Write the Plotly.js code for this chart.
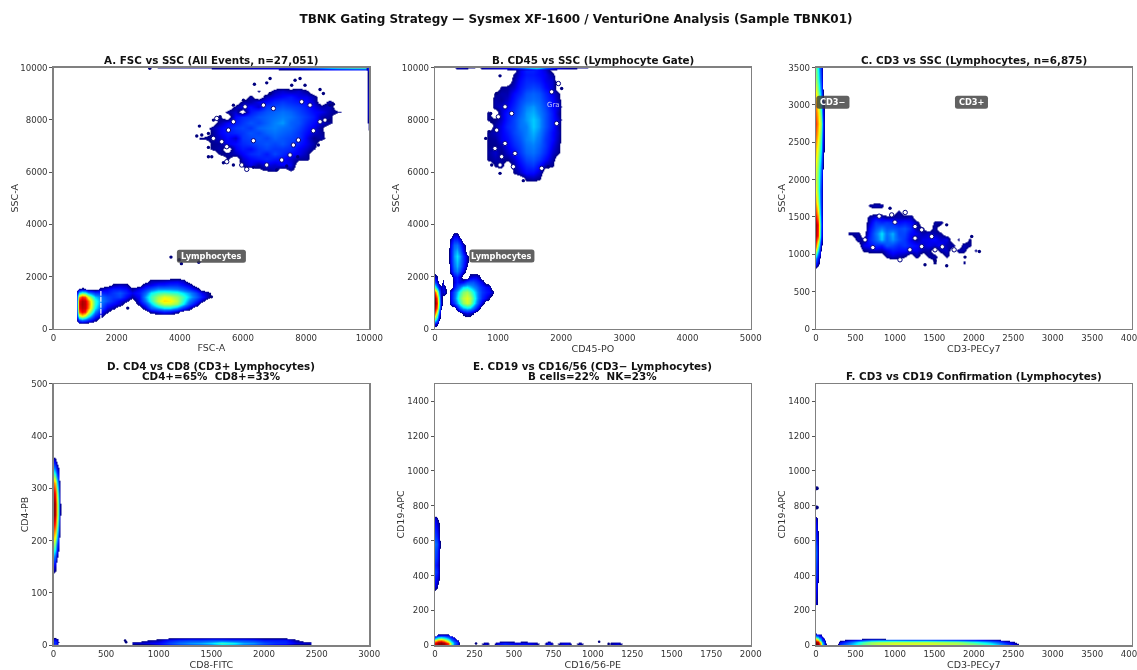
<!DOCTYPE html>
<html><head><meta charset="utf-8">
<script src="https://cdn.plot.ly/plotly-3.0.1.min.js"></script>
<style>html,body{margin:0;padding:0;background:#fff;overflow:hidden}#g{width:1137px;height:670px;filter:blur(0.55px)}</style>
</head><body><div id="g"></div>
<script>
// ---- Density grids (z on a 0-100 density scale) ----
const A_gran_x=[4750,5000,5250,5500,5750,6000,6250,6500,6750,7000,7250,7500,7750,8000,8250,8500,8750,9000];
const A_gran_y=[5900,6100,6300,6500,6700,6900,7100,7300,7500,7700,7900,8100,8300,8500,8700,8900,9100,9300,9500,9700];
const A_gran_z=[
[0,0,0,0,0,0,0,0,0,0,0,0,0,0,0,0,0,0],
[0,0,0,0,0,0,0,4,6,8,0,7,0,0,0,0,0,0],
[0,0,0,0,0,8,12,7,12,10,13,12,0,0,0,0,0,0],
[0,0,0,6,0,10,14,16,18,16,14,10,7,7,0,0,0,0],
[0,0,6,7,9,13,18,20,16,22,18,14,12,8,0,0,0,0],
[0,6,8,0,12,16,14,20,22,20,20,18,13,10,6,0,0,0],
[0,6,7,12,14,18,20,22,24,22,24,20,16,12,8,0,0,0],
[6,7,10,14,10,20,22,24,22,26,24,22,20,12,6,8,0,0],
[0,6,12,16,18,20,24,22,26,28,26,24,20,14,10,7,0,0],
[0,7,12,16,20,22,20,26,28,30,28,26,22,16,12,6,0,0],
[0,0,8,13,16,20,24,22,26,30,32,26,24,18,14,10,7,0],
[0,0,6,0,14,18,20,24,26,28,30,28,24,20,16,8,7,0],
[0,0,0,7,10,0,16,20,24,26,28,26,22,18,14,12,8,6],
[0,0,0,0,7,12,14,10,20,22,24,22,20,16,12,8,9,0],
[0,0,0,0,0,7,8,12,14,18,20,18,16,14,10,0,8,0],
[0,0,0,0,0,0,7,0,9,12,14,16,12,12,8,0,0,0],
[0,0,0,0,0,0,0,6,0,8,10,8,10,6,0,0,0,0],
[0,0,0,0,0,0,0,0,0,0,0,0,0,0,0,0,0,0],
[0,0,0,0,0,0,0,0,0,0,0,0,0,0,0,0,0,0],
[0,0,0,0,0,0,0,0,0,0,0,0,0,0,0,0,0,0]];
const A_hole_x=[6066,5697,5539,5170,6647,8229,8440,7754,7596,6330,5961,5486,6119,6752,6963,7860,7227,7490,8598,5486,5328,5064,8123];
const A_hole_y=[8497,7925,7606,8052,8561,7581,7925,7225,7034,7200,6271,6971,6106,6271,8433,8688,6462,6653,7988,6398,7161,7289,8561];
const A_speck_x=[6858,7649,7965,8440,6362,6752,4620,4536,4695,8756,8756,8387,5380,7068,7385,7733,4906,3720,3980,4050,4600,2350,5000,3050,5064,4906,4906,5011,5697,6330,8862,8704,8546,7807,7543,6858,6014,5697,5275];
const A_speck_y=[9578,9514,9323,9158,9362,9413,7759,7378,7416,8561,7988,7034,6360,6080,6233,6589,6589,2750,2650,2500,2550,800,1230,9970,7988,7480,6945,6589,6271,6182,8599,7963,9006,9578,9323,9006,8752,8561,8115];
const A_lymph_x=[700,800,900,1000,1100,1300,1500,1700,1900,2100,2300,2500,2700,2900,3100,3300,3500,3700,3900,4100,4300,4500,4700,4900,5100];
const A_lymph_y=[200,350,500,650,800,950,1100,1250,1400,1550,1700,1850,2000];
const A_lymph_z=[
[0,0,0,0,0,0,0,0,0,0,0,0,0,0,0,0,0,0,0,0,0,0,0,0,0],
[0,24,30,26,20,8,0,0,0,0,0,0,0,0,0,0,0,0,0,0,0,0,0,0,0],
[0,58,66,58,44,18,8,0,0,0,0,0,0,0,0,0,0,0,0,0,0,0,0,0,0],
[0,80,88,84,64,30,14,7,0,0,0,0,0,0,8,12,16,14,8,0,0,0,0,0,0],
[0,88,94,92,78,40,24,12,8,0,0,0,0,10,26,34,40,40,32,20,10,0,0,0,0],
[0,90,96,93,80,44,28,18,14,10,0,0,8,20,36,52,60,60,54,40,24,12,0,0,0],
[0,88,95,92,78,44,30,24,18,12,8,0,12,28,44,60,68,66,58,44,30,18,8,0,0],
[0,74,84,80,62,36,28,22,20,22,14,8,14,32,46,56,62,60,54,46,36,26,16,8,0],
[0,38,48,44,32,20,18,16,20,24,18,12,16,26,40,46,48,46,44,38,32,22,12,7,0],
[0,5,7,6,0,0,8,12,16,16,14,7,12,18,24,30,30,30,28,24,18,10,0,0,0],
[0,0,0,0,0,0,0,0,7,9,8,0,0,10,12,16,16,18,18,14,10,0,0,0,0],
[0,0,0,0,0,0,0,0,0,0,0,0,0,0,8,8,9,10,11,9,0,0,0,0,0],
[0,0,0,0,0,0,0,0,0,0,0,0,0,0,0,0,0,0,0,0,0,0,0,0,0]];
const A_top_x=[3700,4500,5500,6000,6500,7000,7500,8000,8500,9000,9500,10000];
const A_top_y=[9880,10000];
const A_top_z=[[0,0,0,0,0,0,0,0,0,0,0,0],[6,7,8,10,12,14,18,26,34,44,48,50]];
const A_right_x=[9880,10000];
const A_right_y=[7600,7700,8200,8600,9000,9400,9800,10000];
const A_right_z=[[0,6],[0,8],[0,14],[0,16],[0,14],[0,12],[0,10],[0,30]];
const A_gate_x=[1500,1500];
const A_gate_y=[350,1450];

const B_gran_x=[750,850,950,1050,1150,1250,1350,1450,1550,1650,1750,1850,1950,2050];
const B_gran_y=[5500,5750,6000,6250,6500,6750,7000,7250,7500,7750,8000,8250,8500,8750,9000,9250,9500,9750,10000];
const B_gran_z=[
[0,0,0,0,0,0,0,0,0,0,0,0,0,0],
[0,0,0,0,0,0,0,7,8,6,0,0,0,0],
[0,0,0,0,0,6,10,14,14,10,0,0,0,0],
[0,0,6,8,0,8,13,18,20,14,8,6,0,0],
[0,6,8,7,6,10,16,22,24,20,14,8,0,0],
[0,7,10,6,10,14,20,26,28,24,18,10,6,0],
[0,6,6,8,12,18,22,28,30,26,20,12,7,0],
[0,6,7,12,14,20,24,30,32,28,20,14,8,0],
[0,7,9,12,16,22,26,30,34,30,22,14,9,0],
[0,0,8,12,18,22,28,30,36,32,24,16,8,0],
[0,6,6,10,16,22,28,32,36,32,24,16,10,0],
[0,7,0,10,16,20,26,32,34,30,24,16,8,0],
[0,0,8,10,12,18,24,30,32,28,22,14,10,0],
[0,0,8,7,10,16,22,26,28,26,20,14,8,0],
[0,0,6,8,8,14,18,24,26,24,18,12,6,0],
[0,0,0,6,7,10,16,20,22,20,14,10,0,0],
[0,0,0,0,0,8,14,18,18,16,12,10,0,0],
[0,0,0,0,0,6,12,16,16,14,12,7,0,0],
[0,0,0,0,0,0,12,18,18,14,10,0,0,0]];
const B_hole_x=[1109,1003,977,1109,1056,1030,950,1241,1267,1954,1848,1927,1690,1214];
const B_hole_y=[8497,8115,7606,7098,6589,6271,6907,6207,6716,9387,9069,7861,6144,8242];
const B_speck_x=[1030,898,855,803,882,898,1030,1399,2006,977,1795];
const B_speck_y=[9680,7925,7543,7289,8242,6271,5953,5673,9197,9006,6207];
const B_low_x=[0,30,60,90,120,150,200,250,300,350,400,450,500,550,600,650,700,750,800,850,900,950];
const B_low_y=[0,200,400,600,800,1000,1200,1400,1600,1800,2000,2200,2400,2600,2800,3000,3200,3400,3600,3800];
const B_low_z=[
[0,0,0,0,0,0,0,0,0,0,0,0,0,0,0,0,0,0,0,0,0,0],
[12,7,0,0,0,0,0,0,0,0,0,0,0,0,0,0,0,0,0,0,0,0],
[50,32,8,0,0,0,0,0,0,0,0,0,0,0,0,0,0,0,0,0,0,0],
[78,56,22,0,0,0,0,0,0,0,0,8,12,10,6,0,0,0,0,0,0,0],
[94,76,38,8,0,0,0,0,0,12,26,34,38,36,28,18,8,0,0,0,0,0],
[100,84,46,12,0,0,0,12,20,32,44,54,60,56,44,32,20,10,0,0,0,0],
[96,78,42,10,0,0,0,14,26,38,50,58,62,58,48,36,26,18,12,7,0,0],
[80,60,30,10,10,12,0,14,24,34,44,52,56,50,42,34,26,20,16,14,10,0],
[46,30,14,8,12,9,0,0,14,22,30,38,40,36,32,28,22,18,14,12,0,0],
[22,12,0,0,9,0,0,0,10,16,12,14,22,24,24,20,16,12,0,0,0,0],
[10,6,0,0,0,0,0,0,12,16,10,0,0,10,12,12,8,0,0,0,0,0],
[0,0,0,0,0,0,0,12,24,30,22,12,0,0,0,0,0,0,0,0,0,0],
[0,0,0,0,0,0,0,14,28,34,28,18,6,0,0,0,0,0,0,0,0,0],
[0,0,0,0,0,0,0,16,30,36,30,20,8,0,0,0,0,0,0,0,0,0],
[0,0,0,0,0,0,0,16,32,38,32,20,8,0,0,0,0,0,0,0,0,0],
[0,0,0,0,0,0,0,16,30,34,26,14,0,0,0,0,0,0,0,0,0,0],
[0,0,0,0,0,0,0,14,26,28,20,10,0,0,0,0,0,0,0,0,0,0],
[0,0,0,0,0,0,0,10,18,18,12,0,0,0,0,0,0,0,0,0,0,0],
[0,0,0,0,0,0,0,0,10,10,0,0,0,0,0,0,0,0,0,0,0,0],
[0,0,0,0,0,0,0,0,0,0,0,0,0,0,0,0,0,0,0,0,0,0]];
const B_top_x=[300,320,400,500,630,700,720,800,1000,1200,1400,1600,1800,1900,2000,2100,2200,2350];
const B_top_y=[9880,10000];
const B_top_z=[[0,0,0,0,0,0,0,0,0,0,0,0,0,0,0,0,0,0],[0,7,10,8,5,0,7,10,12,16,30,46,24,16,12,10,8,6]];

const C_neg_x=[0,30,60,85,110];
const C_neg_y=[800,950,1100,1250,1400,1550,1700,1850,2000,2150,2300,2450,2600,2750,2900,3050,3200,3350,3500];
const C_neg_z=[
[0,0,0,0,0],[30,14,0,0,0],[76,50,8,0,0],[94,82,24,0,0],[96,84,28,0,0],[82,68,22,0,0],[70,56,20,0,0],
[64,50,20,0,0],[60,50,24,0,0],[62,52,28,5,0],[66,56,34,8,0],[72,62,42,12,0],[78,68,48,16,0],[82,72,54,18,0],
[78,68,46,14,0],[72,62,36,10,0],[62,50,28,5,0],[54,44,22,0,0],[50,40,18,0,0]];
const C_pos_x=[450,525,600,675,750,825,900,975,1050,1125,1200,1275,1350,1425,1500,1575,1650,1725,1800,1875,1950,2025,2100];
const C_pos_y=[900,975,1050,1125,1200,1275,1350,1425,1500,1575,1650,1725];
const C_pos_z=[
[0,0,0,0,0,0,0,0,0,0,0,0,0,0,6,0,0,0,0,6,0,0,0],
[0,0,0,0,0,0,7,10,8,6,0,8,0,7,8,0,7,0,0,0,0,0,0],
[0,0,6,8,9,8,12,16,14,14,12,12,8,8,0,8,10,0,8,8,0,7,0],
[0,0,12,14,18,16,24,22,18,20,16,14,10,12,10,14,8,8,0,9,7,0,0],
[0,8,6,18,26,36,26,32,24,20,12,7,12,12,14,10,12,0,6,0,6,0,0],
[7,8,0,16,28,38,28,34,22,22,14,12,8,10,8,7,0,0,0,0,0,0,0],
[0,0,0,14,24,30,24,24,22,24,18,8,6,0,8,0,0,0,0,0,0,0,0],
[0,0,0,10,20,18,20,18,14,16,14,8,0,0,7,8,0,0,0,0,0,0,0],
[0,0,0,8,12,10,7,8,8,8,9,0,0,0,0,0,0,0,0,0,0,0,0],
[0,0,0,0,0,0,0,0,7,0,0,0,0,0,0,0,0,0,0,0,0,0,0],
[0,0,0,7,9,8,0,0,0,0,0,0,0,0,0,0,0,0,0,0,0,0,0],
[0,0,0,0,0,0,0,0,0,0,0,0,0,0,0,0,0,0,0,0,0,0,0]];
const C_hole_x=[1255,1339,1255,1466,1508,1339,959,621,1064,1600,1750,1130,800,1190,720,1000];
const C_hole_y=[1371,1327,1216,1238,1060,1104,1527,1193,926,1100,1060,1560,1510,1060,1090,1430];
const C_speck_x=[938,1381,1508,1656,1888,2070,1973,1656,1559];
const C_speck_y=[1616,859,913,846,962,1037,1238,1394,1394];

const D_cd4_x=[0,15,30,45,60,75];
const D_cd4_y=[130,150,170,190,210,230,250,270,290,310,330,350,365,385];
const D_cd4_z=[
[0,0,0,0,0,0],[12,8,0,0,0,0],[32,24,10,0,0,0],[54,46,26,10,0,0],[72,64,44,20,6,0],[88,80,60,34,8,0],
[100,92,70,42,10,0],[100,92,70,42,10,0],[92,84,62,36,8,0],[76,68,46,22,7,0],[44,36,22,10,0,0],[18,12,6,0,0,0],[0,0,0,0,0,0],[0,0,0,0,0,0]];
const D_low_x=[0,20,40,55];
const D_low_y=[0,6,12,16];
const D_low_z=[[14,16,8,0],[18,20,10,0],[10,10,6,0],[0,0,0,0]];
const D_cd8_x=[800,900,1000,1100,1200,1300,1400,1500,1600,1700,1800,1900,2000,2100,2200,2300,2400];
const D_cd8_y=[0,5,10,15];
const D_cd8_z=[
[0,0,8,14,18,20,22,26,32,30,26,20,16,10,8,0,0],
[10,12,14,22,28,32,34,38,46,42,34,32,24,20,18,12,10],
[0,6,8,16,20,22,22,24,24,22,22,20,16,16,16,7,0],
[0,0,0,0,0,0,0,0,0,0,0,0,0,0,0,0,0]];
const D_speck_x=[680,690];
const D_speck_y=[9,6];

const E_cd19_x=[0,12,24,36];
const E_cd19_y=[300,340,380,420,460,500,540,580,620,660,700,730,750];
const E_cd19_z=[[0,0,0,0],[12,8,0,0],[16,12,6,0],[22,18,8,0],[18,14,6,0],[22,18,8,0],[24,20,9,0],[28,24,12,0],[22,18,8,0],[18,14,6,0],[14,10,5,0],[10,7,0,0],[0,0,0,0]];
const E_hot_x=[0,20,40,60,80,100,120,140,160];
const E_hot_y=[0,10,20,30,40,50,60,70];
const E_hot_z=[
[88,96,98,96,82,50,26,16,0],[90,97,100,97,84,54,30,18,0],[84,94,96,90,72,46,28,20,0],[62,74,78,70,52,32,20,8,0],
[34,48,52,46,34,22,12,0,0],[16,26,28,26,20,12,0,0,0],[0,12,14,14,12,0,0,0,0],[0,0,0,0,0,0,0,0,0]];
const E_nk_x=[240,280,320,360,400,440,480,520,560,600,640,680,720,760,800,840,880,920,960,1000,1040,1080,1120,1160,1200];
const E_nk_y=[0,12,26];
const E_nk_z=[
[0,0,7,0,7,8,8,7,8,8,6,0,8,0,7,7,0,5,0,0,0,0,5,7,0],
[0,0,12,0,14,20,16,14,16,14,10,0,18,0,12,14,0,10,0,0,0,0,9,12,0],
[0,0,0,0,0,0,0,0,0,0,0,0,0,0,0,0,0,0,0,0,0,0,0,0,0]];
const E_speck_x=[260,1040,1100];
const E_speck_y=[10,20,8];

const F_cd19_x=[0,15,30,45];
const F_cd19_y=[250,290,330,370,410,450,490,530,570,610,650,690,730,745];
const F_cd19_z=[[10,6,0,0],[12,8,0,0],[14,10,0,0],[16,12,6,0],[20,16,8,0],[22,16,8,0],[24,18,9,0],[26,20,9,0],[24,18,9,0],[20,14,7,0],[16,12,6,0],[14,10,0,0],[10,6,0,0],[0,0,0,0]];
const F_hot_x=[0,20,40,60,80,100,120,140];
const F_hot_y=[0,10,20,30,40,50,60,70,80];
const F_hot_z=[
[100,98,90,66,44,24,10,0],[100,97,88,64,42,22,10,0],[96,90,76,52,32,18,8,0],[82,72,54,36,22,12,6,0],[60,50,38,26,16,8,0,0],
[34,28,20,14,9,0,0,0],[16,13,9,7,0,0,0,0],[6,0,0,0,0,0,0,0],[0,0,0,0,0,0,0,0]];
const F_band_x=[260,300,400,500,600,700,800,1000,1200,1400,1600,1800,2000,2200,2300,2400,2500,2560,2600];
const F_band_y=[0,10,20,30,40,50];
const F_band_z=[
[0,14,26,36,44,48,52,54,56,56,54,52,48,38,32,22,12,7,0],
[0,18,30,40,50,56,60,62,62,62,60,58,52,42,34,24,12,6,0],
[0,10,22,34,44,52,54,56,56,56,54,52,42,32,24,14,7,0,0],
[0,0,8,12,18,24,26,24,22,22,20,18,16,10,8,0,0,0,0],
[0,0,0,0,6,8,8,0,0,0,0,0,0,0,0,0,0,0,0],
[0,0,0,0,0,0,0,0,0,0,0,0,0,0,0,0,0,0,0]];
const F_speck_x=[10,10];
const F_speck_y=[900,790];

// ---- Text and axes ----
const mainTitle="TBNK Gating Strategy — Sysmex XF-1600 / VenturiOne Analysis (Sample TBNK01)";
const panelTitles=[["A. FSC vs SSC (All Events, n=27,051)"],["B. CD45 vs SSC (Lymphocyte Gate)"],["C. CD3 vs SSC (Lymphocytes, n=6,875)"],
["D. CD4 vs CD8 (CD3+ Lymphocytes)","CD4+=65%  CD8+=33%"],["E. CD19 vs CD16/56 (CD3− Lymphocytes)","B cells=22%  NK=23%"],["F. CD3 vs CD19 Confirmation (Lymphocytes)"]];
const xTitles=["FSC-A","CD45-PO","CD3-PECy7","CD8-FITC","CD16/56-PE","CD3-PECy7"];
const yTitles=["SSC-A","SSC-A","SSC-A","CD4-PB","CD19-APC","CD19-APC"];
const xMax=[10000,5000,4000,3000,2000,4000];
const yMax=[10000,10000,3500,500,1500,1500];
const xStep=[2000,1000,500,500,250,500];
const yStep=[2000,2000,500,100,200,200];

// ---- Page layout (pixels) ----
const W=1137,H=670;
const colL=[53.5,435,816], colR=[369.3,750.7,1131.7];
const rowT=[67.5,383.7], rowB=[329,645.3];
const jet=[[0,'rgba(255,255,255,0)'],[0.0499,'rgba(255,255,255,0)'],[0.05,'#00007f'],[0.13,'#0000ff'],[0.30,'#0080ff'],[0.40,'#00ffff'],[0.52,'#7cff79'],[0.65,'#ffff00'],[0.87,'#ff0000'],[1,'#7f0000']];
const axn=i=>i===0?'':String(i+1);
const traces=[];
function dens(p,x,y,z){traces.push({type:'heatmap',x,y,z,xaxis:'x'+axn(p),yaxis:'y'+axn(p),zmin:0,zmax:100,zauto:false,zsmooth:'best',colorscale:jet,showscale:false,hoverinfo:'skip'});}
function speck(p,x,y,size){traces.push({type:'scatter',mode:'markers',x,y,xaxis:'x'+axn(p),yaxis:'y'+axn(p),marker:{size:size||3.4,color:'#00007f'},hoverinfo:'skip'});}
function hole(p,x,y){traces.push({type:'scatter',mode:'markers',x,y,xaxis:'x'+axn(p),yaxis:'y'+axn(p),marker:{size:4.4,color:'#fff',line:{color:'#00007f',width:1}},hoverinfo:'skip'});}
dens(0,A_gran_x,A_gran_y,A_gran_z);dens(0,A_lymph_x,A_lymph_y,A_lymph_z);dens(0,A_top_x,A_top_y,A_top_z);dens(0,A_right_x,A_right_y,A_right_z);hole(0,A_hole_x,A_hole_y);speck(0,A_speck_x,A_speck_y);
traces.push({type:'scatter',mode:'lines',x:A_gate_x,y:A_gate_y,xaxis:'x',yaxis:'y',line:{color:'#fff',width:1.2,dash:'5px,1px'},hoverinfo:'skip'});
dens(1,B_gran_x,B_gran_y,B_gran_z);dens(1,B_low_x,B_low_y,B_low_z);dens(1,B_top_x,B_top_y,B_top_z);hole(1,B_hole_x,B_hole_y);speck(1,B_speck_x,B_speck_y);
dens(2,C_neg_x,C_neg_y,C_neg_z);dens(2,C_pos_x,C_pos_y,C_pos_z);hole(2,C_hole_x,C_hole_y);speck(2,C_speck_x,C_speck_y);
dens(3,D_cd4_x,D_cd4_y,D_cd4_z);dens(3,D_low_x,D_low_y,D_low_z);dens(3,D_cd8_x,D_cd8_y,D_cd8_z);speck(3,D_speck_x,D_speck_y,2.6);
dens(4,E_cd19_x,E_cd19_y,E_cd19_z);dens(4,E_hot_x,E_hot_y,E_hot_z);dens(4,E_nk_x,E_nk_y,E_nk_z);speck(4,E_speck_x,E_speck_y,2.6);
dens(5,F_cd19_x,F_cd19_y,F_cd19_z);dens(5,F_hot_x,F_hot_y,F_hot_z);dens(5,F_band_x,F_band_y,F_band_z);speck(5,F_speck_x,F_speck_y,4);

const tickFont={family:'DejaVu Sans',size:8.6,color:'#333'};
const layout={width:W,height:H,margin:{l:0,r:0,t:0,b:0},paper_bgcolor:'#fff',plot_bgcolor:'#fff',showlegend:false,
 title:{text:mainTitle,x:576/W,xanchor:'center',y:1-19/H,yanchor:'middle',font:{family:'DejaVu Sans',size:12,color:'#111',weight:700}},
 annotations:[],shapes:[],hovermode:false};
for(let i=0;i<6;i++){
 const c=i%3,r=Math.floor(i/3);
 const common={showgrid:false,zeroline:false,showline:true,mirror:true,linecolor:'#808080',linewidth:1.2,ticks:'outside',ticklen:3,tickwidth:1,tickcolor:'#555',tickfont:tickFont,automargin:false,tickformat:'d',ticklabeloverflow:'allow'};
 // The labelled x axis has no tick marks, so its labels sit close to the frame; a companion axis draws the marks.
 layout['xaxis'+axn(i)]=Object.assign({},common,{domain:[colL[c]/W,colR[c]/W],range:[0,xMax[i]],dtick:xStep[i],tick0:0,anchor:'y'+axn(i),tickangle:0,ticks:'',ticklen:0,
  title:{text:xTitles[i],standoff:2.5,font:{family:'DejaVu Sans',size:9.5,color:'#333'}}});
 layout['xaxis'+(i+7)]={overlaying:'x'+axn(i),anchor:'y'+axn(i),side:'bottom',range:[0,xMax[i]],dtick:xStep[i],tick0:0,showgrid:false,zeroline:false,showline:false,showticklabels:false,ticks:'outside',ticklen:3,tickwidth:1,tickcolor:'#555'};
 layout['yaxis'+axn(i)]=Object.assign({},common,{domain:[1-rowB[r]/H,1-rowT[r]/H],range:[0,yMax[i]],dtick:yStep[i],tick0:0,anchor:'x'+axn(i),ticklabelstandoff:-1.5,
  title:{text:yTitles[i],standoff:0,font:{family:'DejaVu Sans',size:9.5,color:'#333'}}});
 const lines=panelTitles[i];
 lines.forEach((t,k)=>{
  const py=r===0?60:(lines.length===2?365.7+10*k:375.7);
  layout.annotations.push({xref:'paper',yref:'paper',x:(colL[c]+colR[c])/2/W,y:1-py/H,xanchor:'center',yanchor:'middle',showarrow:false,text:t,font:{family:'DejaVu Sans',size:10.35,color:'#111',weight:700}});
 });
}
function tag(p,x,y,t,w){
 const a=w/2,b=6.5,rd=2.5;
 layout.shapes.push({type:'path',xref:'x'+axn(p),yref:'y'+axn(p),xsizemode:'pixel',ysizemode:'pixel',xanchor:x,yanchor:y,fillcolor:'rgba(62,62,62,0.82)',line:{width:0},
  path:`M${-a+rd},${-b} L${a-rd},${-b} Q${a},${-b} ${a},${-b+rd} L${a},${b-rd} Q${a},${b} ${a-rd},${b} L${-a+rd},${b} Q${-a},${b} ${-a},${b-rd} L${-a},${-b+rd} Q${-a},${-b} ${-a+rd},${-b} Z`});
 layout.annotations.push({xref:'x'+axn(p),yref:'y'+axn(p),x,y,text:t,showarrow:false,font:{family:'DejaVu Sans',size:8.2,color:'#fff',weight:700}});
}
tag(0,5000,2780,'Lymphocytes',69);tag(1,1060,2790,'Lymphocytes',65);tag(2,215,3035,'CD3−',33);tag(2,1970,3035,'CD3+',33);
layout.annotations.push({xref:'x2',yref:'y2',x:1880,y:8560,text:'Gra',showarrow:false,font:{family:'DejaVu Sans',size:7,color:'rgba(255,255,255,0.75)'}});
Plotly.newPlot('g',traces,layout,{displayModeBar:false,staticPlot:true});
</script></body></html>
